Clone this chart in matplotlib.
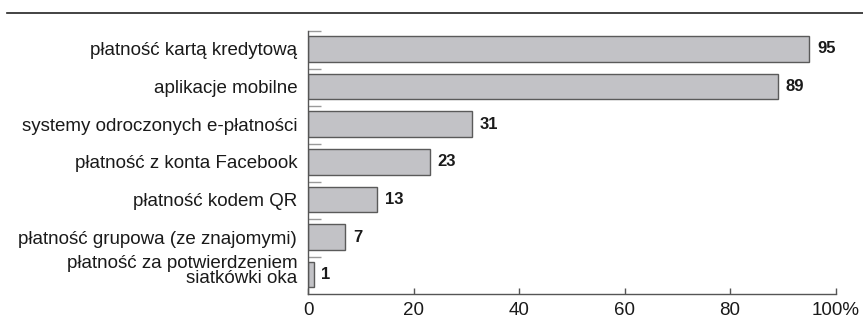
import numpy as np
import matplotlib
matplotlib.use("Agg")
from matplotlib import pyplot as plt
from matplotlib.lines import Line2D
from matplotlib import transforms

labels = ["płatność kartą kredytową",
          "aplikacje mobilne",
          "systemy odroczonych e-płatności",
          "płatność z konta Facebook",
          "płatność kodem QR",
          "płatność grupowa (ze znajomymi)",
          "płatność za potwierdzeniem\nsiatkówki oka"]
values = [95, 89, 31, 23, 13, 7, 1]
xticks = [0, 20, 40, 60, 80, 100]
xticklabels = ["0", "20", "40", "60", "80", "100%"]

plt.rcParams['font.family'] = ['Liberation Sans', 'DejaVu Sans']

fig = plt.figure(figsize=(8.63, 3.34), dpi=100)
ax = fig.add_axes([308.3/863, 1-293.5/334, (835.5-308.3)/863, (293.5-31)/334])

y = np.arange(len(values))
ax.barh(y, values, height=0.68, color='#c2c2c6', edgecolor='#5a5a5a', linewidth=1.0)
for yi, v in zip(y, values):
    ax.text(v + 1.5, yi, str(v), va='center', ha='left', fontsize=12,
            fontweight='bold', color='#1a1a1a')

ax.set_xlim(0, 100)
ax.set_ylim(6.5, -0.475)

ax.set_yticks(y)
ax.set_yticklabels(labels, fontsize=13.5, color='#1a1a1a', linespacing=0.85)
ax.tick_params(axis='y', which='major', length=0, pad=8)
ax.set_yticks(y - 0.475, minor=True)
ax.tick_params(axis='y', which='minor', direction='in', length=9.5,
               color='#9a9a9a', width=1)

# the two-line label sits a little higher than its bar
last = ax.get_yticklabels()[-1]
last.set_transform(last.get_transform() +
                   transforms.ScaledTranslation(0, 5/100, fig.dpi_scale_trans))

ax.set_xticks(xticks)
ax.set_xticklabels(xticklabels, fontsize=13.5, color='#1a1a1a')
ax.tick_params(axis='x', direction='in', length=4.5, color='#555555', width=1, pad=6)

for s in ['top', 'right']:
    ax.spines[s].set_visible(False)
for s in ['left', 'bottom']:
    ax.spines[s].set_color('#555555')
    ax.spines[s].set_linewidth(1)

# rule across the top of the figure
fig.add_artist(Line2D([7/863, 1], [1-13/334, 1-13/334], color='#222222', linewidth=1.2))

fig.savefig("out.png", dpi=100)
